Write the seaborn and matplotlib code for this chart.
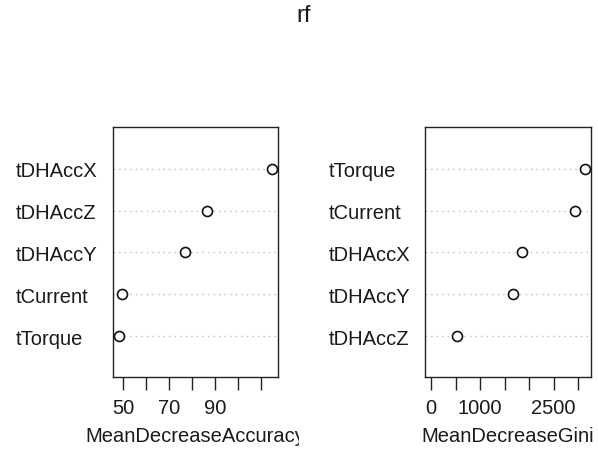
import matplotlib
matplotlib.use("Agg")
import matplotlib.pyplot as plt
from matplotlib.transforms import Bbox, TransformedBbox
import seaborn as sns
import pandas as pd

title = "rf"

acc_names = ["tDHAccX", "tDHAccZ", "tDHAccY", "tCurrent", "tTorque"]
acc_values = [114.5, 86.5, 76.8, 49.4, 48.1]
acc_ticks = [50, 60, 70, 80, 90, 100, 110]
acc_ticklabels = ["50", "", "70", "", "90", "", ""]

gini_names = ["tTorque", "tCurrent", "tDHAccX", "tDHAccY", "tDHAccZ"]
gini_values = [3140, 2942, 1864, 1673, 535]
gini_ticks = [0, 500, 1000, 1500, 2000, 2500, 3000]
gini_ticklabels = ["0", "", "1000", "", "", "2500", ""]

sns.set_style("white")
plt.rcParams["font.family"] = ["Liberation Sans", "DejaVu Sans"]
FS = 14.5
TXT = "#1a1a1a"

fig = plt.figure(figsize=(5.98, 4.56), dpi=100)
W, H = 598, 456


def px_axes(x0, x1, y0, y1):
    return fig.add_axes([x0 / W, 1 - y1 / H, (x1 - x0) / W, (y1 - y0) / H])


ax1 = px_axes(112.7, 277.7, 128, 378)
ax2 = px_axes(425, 591, 128, 378)

panels = [
    (ax1, acc_names, acc_values, acc_ticks, acc_ticklabels, "MeanDecreaseAccuracy", False),
    (ax2, gini_names, gini_values, gini_ticks, gini_ticklabels, "MeanDecreaseGini", True),
]

for ax, names, vals, ticks, tlabels, xlabel, from_zero in panels:
    df = pd.DataFrame({"var": names, "val": vals})
    n = len(names)
    for i in range(n):
        ax.axhline(i, color="#bdbdbd", lw=1.0, linestyle=(0, (1, 3)), zorder=0)
    sns.stripplot(data=df, x="val", y="var", order=names, orient="h", jitter=False,
                  ax=ax, size=7.2, color="white", edgecolor="#111111", linewidth=1.2,
                  zorder=3)
    lo = 0 if from_zero else min(vals)
    hi = max(vals)
    r = hi - lo
    ax.set_xlim(lo - 0.04 * r, hi + 0.04 * r)
    ax.set_ylim(n - 1 + 0.98, -1.0)
    ax.set_xticks(ticks)
    ax.set_xticklabels(tlabels)
    ax.tick_params(axis="x", direction="out", length=9.3, width=1.0, color="#222222",
                   pad=5.5, labelsize=FS, labelcolor=TXT, bottom=True)
    ax.tick_params(axis="y", length=0, pad=69.5, labelsize=FS, labelcolor=TXT)
    for lab in ax.get_yticklabels():
        lab.set_horizontalalignment("left")
    for s in ax.spines.values():
        s.set_visible(True)
        s.set_color("#222222")
        s.set_linewidth(1.0)
    ax.set_ylabel("")
    ax.set_xlabel(xlabel, fontsize=FS, color=TXT)
    ax.xaxis.set_label_coords(0.5, -0.236)
    ax.xaxis.label.set_verticalalignment("center")

# clip the left panel's x label at its figure region, as in the reference
clip = TransformedBbox(Bbox([[0, 0], [0.5, 1]]), fig.transFigure)
ax1.xaxis.label.set_clip_box(clip)
ax1.xaxis.label.set_clip_on(True)

fig.text(303.5 / W, 1 - 16 / H, title, ha="center", va="center", fontsize=17, color=TXT)

fig.savefig("out.png", dpi=100)
